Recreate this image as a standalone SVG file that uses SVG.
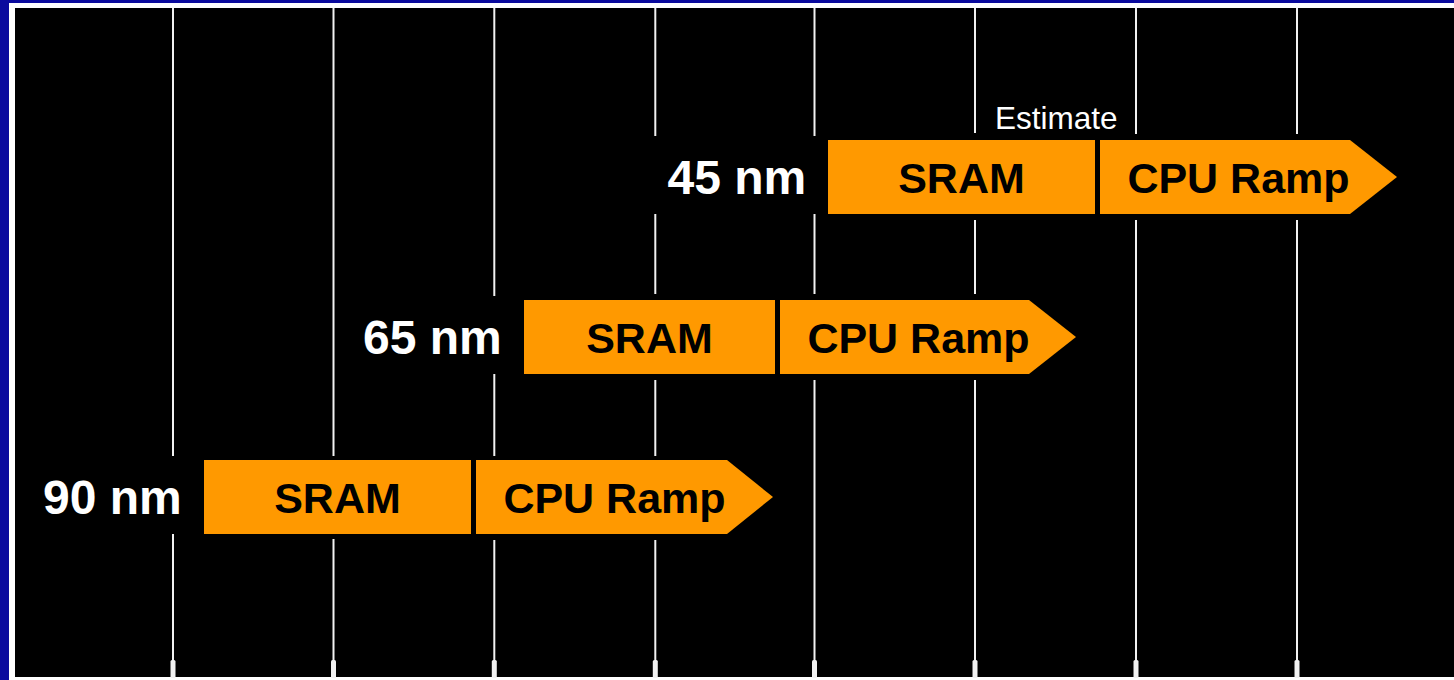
<svg xmlns="http://www.w3.org/2000/svg" width="1454" height="680" viewBox="0 0 1454 680">
<style>
.grid line{stroke:#f2f2f2;stroke-width:2}
.tick{fill:#f2f2f2}
.bar{fill:#ff9900}
.bl{font-family:"Liberation Sans",Arial,sans-serif;font-weight:bold;font-size:43px;fill:#000;text-anchor:middle}
.nl{font-family:"Liberation Sans",Arial,sans-serif;font-weight:bold;font-size:48px;fill:#fff}
.est{font-family:"Liberation Sans",Arial,sans-serif;font-size:31.5px;fill:#fff}
</style>
<rect width="1454" height="680" fill="#0a0a9e"/>
<rect x="9" y="3" width="1445" height="677" fill="#ffffff"/>
<rect x="15" y="8" width="1439" height="669" fill="#000000"/>
<g id="grid" class="grid">
<line x1="173" y1="8" x2="173" y2="456"/><line x1="173" y1="534" x2="173" y2="677"/>
<line x1="333.5" y1="8" x2="333.5" y2="456"/><line x1="333.5" y1="539" x2="333.5" y2="677"/>
<line x1="494.3" y1="8" x2="494.3" y2="296"/><line x1="494.3" y1="374" x2="494.3" y2="456"/><line x1="494.3" y1="540" x2="494.3" y2="677"/>
<line x1="655.3" y1="8" x2="655.3" y2="136"/><line x1="655.3" y1="214" x2="655.3" y2="294"/><line x1="655.3" y1="380" x2="655.3" y2="456"/><line x1="655.3" y1="540" x2="655.3" y2="677"/>
<line x1="814.5" y1="8" x2="814.5" y2="136"/><line x1="814.5" y1="214" x2="814.5" y2="294"/><line x1="814.5" y1="380" x2="814.5" y2="677"/>
<line x1="975" y1="8" x2="975" y2="133"/><line x1="975" y1="220" x2="975" y2="294"/><line x1="975" y1="380" x2="975" y2="677"/>
<line x1="1136" y1="8" x2="1136" y2="134"/><line x1="1136" y1="220" x2="1136" y2="677"/>
<line x1="1297" y1="8" x2="1297" y2="134"/><line x1="1297" y1="220" x2="1297" y2="677"/>
</g>
<g id="ticks" class="tick">
<rect x="170.5" y="660" width="5" height="18" rx="1.5"/>
<rect x="331" y="660" width="5" height="18" rx="1.5"/>
<rect x="491.8" y="660" width="5" height="18" rx="1.5"/>
<rect x="652.8" y="660" width="5" height="18" rx="1.5"/>
<rect x="812" y="660" width="5" height="18" rx="1.5"/>
<rect x="972.5" y="660" width="5" height="18" rx="1.5"/>
<rect x="1133.5" y="660" width="5" height="18" rx="1.5"/>
<rect x="1294.5" y="660" width="5" height="18" rx="1.5"/>
</g>
<g id="row45">
<text class="nl" x="667.5" y="194">45 nm</text>
<text class="est" x="995" y="129">Estimate</text>
<g id="sram45"><rect class="bar" x="828" y="140" width="267" height="74"/><text class="bl" x="961.5" y="193">SRAM</text></g>
<g id="cpu45"><path class="bar" d="M1100,140 H1350 L1397,177 L1350,214 H1100 Z"/><text class="bl" x="1238.5" y="193">CPU Ramp</text></g>
</g>
<g id="row65">
<text class="nl" x="363" y="354">65 nm</text>
<g id="sram65"><rect class="bar" x="524" y="300" width="251" height="74"/><text class="bl" x="649.5" y="353">SRAM</text></g>
<g id="cpu65"><path class="bar" d="M780,300 H1029 L1076,337 L1029,374 H780 Z"/><text class="bl" x="918.5" y="353">CPU Ramp</text></g>
</g>
<g id="row90">
<text class="nl" x="43" y="514">90 nm</text>
<g id="sram90"><rect class="bar" x="204" y="460" width="267" height="74"/><text class="bl" x="337.5" y="513">SRAM</text></g>
<g id="cpu90"><path class="bar" d="M476,460 H727 L773,497 L727,534 H476 Z"/><text class="bl" x="614.5" y="513">CPU Ramp</text></g>
</g>
</svg>
